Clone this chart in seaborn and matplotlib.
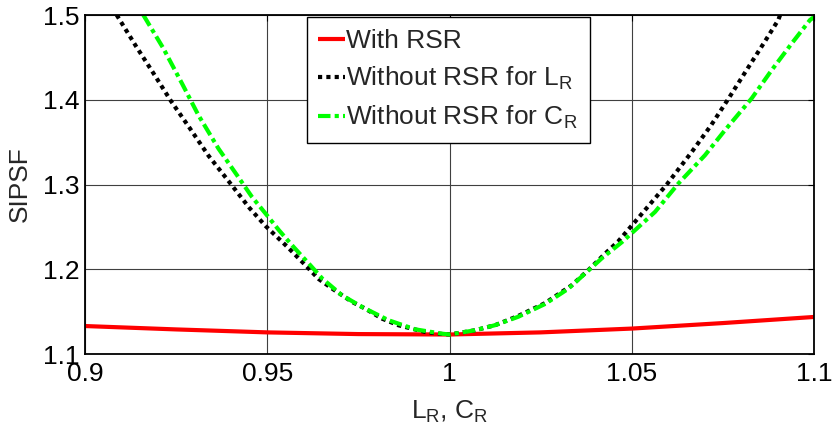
import matplotlib
matplotlib.use("Agg")
import matplotlib.pyplot as plt
import seaborn as sns
import pandas as pd

# ---- data ----
x_rsr = [0.900, 0.925, 0.950, 0.975, 1.000, 1.025, 1.050, 1.075, 1.100]
y_rsr = [1.133, 1.129, 1.1255, 1.1235, 1.123, 1.1255, 1.130, 1.1365, 1.1437]

x_lr = [0.9087, 0.9139, 0.9188, 0.9236, 0.9288, 0.9339, 0.9394, 0.9451, 0.9495,
        0.9555, 0.9605, 0.9641, 0.9678, 0.9733, 0.9769, 0.9815, 0.9860, 0.9897,
        0.9933, 0.9970, 1.0000, 1.0070, 1.0125, 1.0189, 1.0262, 1.0335, 1.0381,
        1.0427, 1.0463, 1.0505, 1.0596, 1.0665, 1.0718, 1.0767, 1.0815, 1.0866,
        1.0902, 1.0907]
y_lr = [1.500, 1.4638, 1.4311, 1.3984, 1.3661, 1.3339, 1.3039, 1.2724, 1.2512,
        1.2265, 1.2047, 1.1885, 1.1772, 1.1614, 1.1535, 1.1417, 1.1339, 1.1299,
        1.1260, 1.1240, 1.1230, 1.1280, 1.1340, 1.1450, 1.1600, 1.1810, 1.1990,
        1.2185, 1.2330, 1.2540, 1.3000, 1.3386, 1.3701, 1.4024, 1.4350, 1.4693,
        1.4941, 1.500]

x_cr = [0.9160, 0.9215, 0.9266, 0.9311, 0.9366, 0.9417, 0.9458, 0.9499, 0.9532,
        0.9568, 0.9614, 0.9651, 0.9705, 0.9760, 0.9833, 0.9906, 0.9979, 1.0000,
        1.0070, 1.0125, 1.0189, 1.0262, 1.0326, 1.0372, 1.0418, 1.0473, 1.0564,
        1.0628, 1.0701, 1.0756, 1.0829, 1.0884, 1.0939, 1.0989, 1.1000]
y_cr = [1.500, 1.4606, 1.4193, 1.3819, 1.3425, 1.3110, 1.2854, 1.2638, 1.2461,
        1.2283, 1.2067, 1.1890, 1.1693, 1.1555, 1.1398, 1.1291, 1.1240, 1.1230,
        1.1280, 1.1340, 1.1440, 1.1590, 1.1770, 1.1950, 1.2130, 1.2320, 1.2677,
        1.3012, 1.3346, 1.3642, 1.4016, 1.4350, 1.4665, 1.4941, 1.4975]

labels = ["With RSR", r"Without RSR for L$_\mathrm{R}$", r"Without RSR for C$_\mathrm{R}$"]
x_ticks = [0.9, 0.95, 1.0, 1.05, 1.1]
x_ticklabels = ["0.9", "0.95", "1", "1.05", "1.1"]
y_ticks = [1.1, 1.2, 1.3, 1.4, 1.5]
y_ticklabels = ["1.1", "1.2", "1.3", "1.4", "1.5"]

# ---- style ----
sns.set_style("white")
plt.rcParams["font.family"] = ["Liberation Sans", "DejaVu Sans"]
plt.rcParams["mathtext.fontset"] = "custom"
plt.rcParams["mathtext.rm"] = "Liberation Sans"
plt.rcParams["mathtext.it"] = "Liberation Sans:italic"
plt.rcParams["mathtext.bf"] = "Liberation Sans:bold"

FS = 19
fig = plt.figure(figsize=(8.33, 4.30), dpi=100)
ax = fig.add_axes([85 / 833, 1 - 354 / 430, 729 / 833, 339 / 430])

df_rsr = pd.DataFrame({"x": x_rsr, "y": y_rsr})
df_lr = pd.DataFrame({"x": x_lr, "y": y_lr})
df_cr = pd.DataFrame({"x": x_cr, "y": y_cr})

sns.lineplot(data=df_rsr, x="x", y="y", ax=ax, color="#ff0000", linewidth=3.0,
             label=labels[0], solid_capstyle="butt")
sns.lineplot(data=df_lr, x="x", y="y", ax=ax, color="#000000", linewidth=3.0,
             linestyle=(0, (1, 1)), dash_capstyle="butt", label=labels[1])
sns.lineplot(data=df_cr, x="x", y="y", ax=ax, color="#00ff00", linewidth=3.0,
             linestyle=(0, (3, 1, 1, 1)), dash_capstyle="butt", label=labels[2])

ax.set_xlim(0.9, 1.1)
ax.set_ylim(1.1, 1.5)
ax.set_xticks(x_ticks)
ax.set_xticklabels(x_ticklabels)
ax.set_yticks(y_ticks)
ax.set_yticklabels(y_ticklabels)

ax.grid(True, color="0.25", linewidth=0.8)
ax.set_axisbelow(True)
for s in ax.spines.values():
    s.set_visible(True)
    s.set_color("black")
    s.set_linewidth(1.3)

ax.tick_params(axis="both", which="both", direction="in", length=4, width=0.8,
               top=True, right=True, labelsize=FS, colors="black")
ax.tick_params(axis="x", pad=6)
ax.tick_params(axis="y", pad=4)

ax.set_xlabel(r"L$_\mathrm{R}$, C$_\mathrm{R}$", fontsize=FS, labelpad=9)
ax.set_ylabel("SIPSF", fontsize=FS, labelpad=8)

leg = ax.legend(loc="upper left", bbox_to_anchor=(0.304, 0.994), borderaxespad=0,
                fontsize=FS, frameon=True, fancybox=False, framealpha=1,
                edgecolor="black", handlelength=1.0, handletextpad=0.05,
                borderpad=0.45, labelspacing=0.45)
leg.get_frame().set_linewidth(1.0)

fig.savefig("out.png", dpi=100)
